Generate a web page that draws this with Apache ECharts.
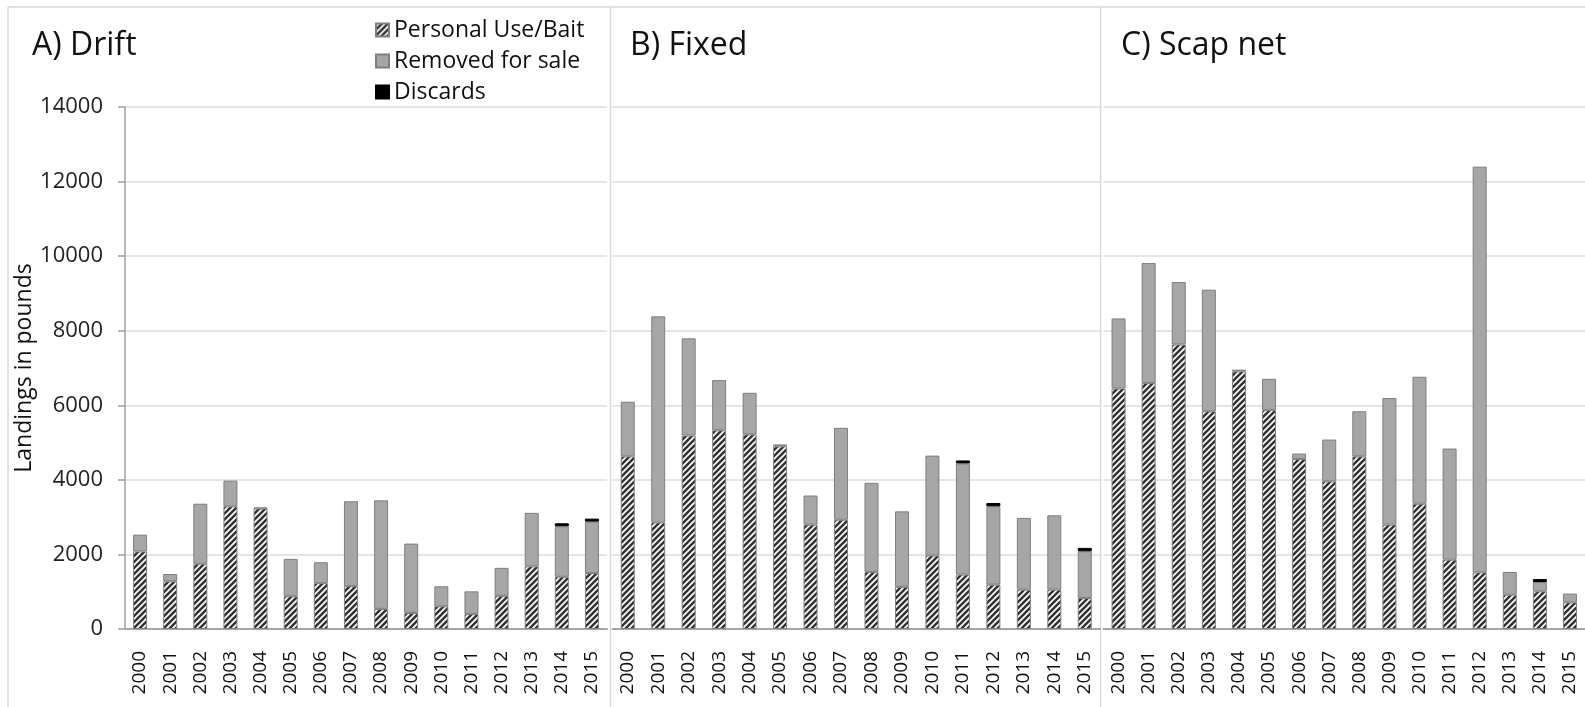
<!DOCTYPE html>
<html>
<head>
<meta charset="utf-8">
<script src="https://cdn.jsdelivr.net/npm/echarts@6/dist/echarts.min.js"></script>
<style>
html, body { margin: 0; padding: 0; background: #fff; }
#main { width: 1585px; height: 707px; }
</style>
</head>
<body>
<div id="main"></div>
<script>
var years = ['2000','2001','2002','2003','2004','2005','2006','2007','2008','2009','2010','2011','2012','2013','2014','2015'];
var yTicks = [0, 14000, 2000]; // min, max, interval

// A) Drift
var driftBait = [2080,1280,1750,3290,3230,880,1230,1150,540,430,610,400,890,1680,1400,1500];
var driftSale = [450,195,1610,690,30,1000,560,2275,2910,1860,535,610,750,1435,1355,1380];
var driftDisc = [0,0,0,0,0,0,0,0,0,0,0,0,0,0,80,80];
// B) Fixed
var fixedBait = [4630,2860,5190,5330,5220,4900,2800,2930,1530,1130,1970,1460,1190,1055,1055,830];
var fixedSale = [1465,5525,2605,1345,1115,50,780,2465,2390,2025,2680,2980,2100,1925,1995,1255];
var fixedDisc = [0,0,0,0,0,0,0,0,0,0,0,80,90,0,0,90];
// C) Scap net
var scapBait = [6450,6600,7630,5840,6910,5870,4560,3960,4630,2800,3360,1860,1520,920,1010,715];
var scapSale = [1880,3215,1675,3260,45,840,145,1120,1210,3395,3405,2980,10880,610,250,235];
var scapDisc = [0,0,0,0,0,0,0,0,0,0,0,0,0,0,80,0];

var panelTitles = ['A) Drift', 'B) Fixed', 'C) Scap net'];
var seriesNames = ['Personal Use/Bait', 'Removed for sale', 'Discards'];

// hatch pattern (wide upward diagonal)
var hatch = document.createElement('canvas');
hatch.width = 6; hatch.height = 6;
var hc = hatch.getContext('2d');
hc.fillStyle = '#fff';
hc.fillRect(0, 0, 6, 6);
hc.strokeStyle = '#333';
hc.lineWidth = 2.5;
hc.beginPath();
for (var k = -6; k <= 12; k += 6) {
	hc.moveTo(k - 1, 7);
	hc.lineTo(k + 7, -1);
}
hc.stroke();

var fnt = '"Open Sans", sans-serif';
var gridPos = [
	{left: 125, top: 107, width: 482, height: 522},
	{left: 612.5, top: 107, width: 487.5, height: 522},
	{left: 1103.5, top: 107, width: 486, height: 522}
];
var panels = [
	[driftBait, driftSale, driftDisc],
	[fixedBait, fixedSale, fixedDisc],
	[scapBait, scapSale, scapDisc]
];
var fills = [{image: hatch, repeat: 'repeat'}, '#a6a6a6', '#000'];
var borders = ['#7f7f7f', '#7f7f7f', '#000'];

var xAxes = [], yAxes = [], series = [];
for (var p = 0; p < 3; p++) {
	xAxes.push({
		type: 'category',
		gridIndex: p,
		data: years,
		axisLine: {lineStyle: {color: '#a6a6a6', width: 2}},
		axisTick: {show: false},
		axisLabel: {rotate: 90, fontSize: 19, fontFamily: fnt, color: '#111', margin: 22, interval: 0}
	});
	yAxes.push({
		type: 'value',
		gridIndex: p,
		min: yTicks[0], max: yTicks[1], interval: yTicks[2],
		name: p == 0 ? 'Landings in pounds' : '',
		nameLocation: 'middle',
		nameGap: 72,
		nameTextStyle: {fontSize: 23, fontFamily: fnt, color: '#111'},
		axisLine: {show: p == 0, lineStyle: {color: '#a0a0a0', width: 1.5}},
		axisTick: {show: p == 0, length: 7, lineStyle: {color: '#a0a0a0', width: 1.5}},
		axisLabel: {show: p == 0, fontSize: 22, fontFamily: fnt, color: '#222', margin: 22,
			formatter: function(v) { return String(v); }},
		splitLine: {lineStyle: {color: '#dcdcdc', width: 1.5}}
	});
	for (var s = 0; s < 3; s++) {
		series.push({
			name: seriesNames[s],
			type: 'bar',
			xAxisIndex: p,
			yAxisIndex: p,
			stack: 'panel' + p,
			barWidth: 14,
			animation: false,
			itemStyle: {color: fills[s], borderColor: borders[s], borderWidth: 1},
			data: panels[p][s].map(function(v) { return v > 0 ? v : null; })
		});
	}
}

var titles = [
	{text: panelTitles[0], left: 27, top: 25},
	{text: panelTitles[1], left: 625, top: 25},
	{text: panelTitles[2], left: 1116, top: 25}
].map(function(t) {
	t.textStyle = {fontSize: 32, fontWeight: 'normal', fontFamily: fnt, color: '#111'};
	return t;
});

var border = {stroke: '#d9d9d9', lineWidth: 1.5};
var option = {
	backgroundColor: '#fff',
	title: titles,
	legend: {
		orient: 'vertical',
		left: 370,
		top: 13,
		icon: 'rect',
		itemWidth: 13,
		itemHeight: 13,
		itemGap: 7,
		selectedMode: false,
		data: seriesNames,
		textStyle: {fontSize: 23, fontFamily: fnt, color: '#111', lineHeight: 24, padding: [0, 0, 0, 0]}
	},
	grid: gridPos,
	xAxis: xAxes,
	yAxis: yAxes,
	series: series,
	graphic: [
		{type: 'line', shape: {x1: 8, y1: 7, x2: 1585, y2: 7}, style: border, silent: true},
		{type: 'line', shape: {x1: 8, y1: 7, x2: 8, y2: 707}, style: border, silent: true},
		{type: 'line', shape: {x1: 610.5, y1: 7, x2: 610.5, y2: 707}, style: border, silent: true},
		{type: 'line', shape: {x1: 1100.5, y1: 7, x2: 1100.5, y2: 707}, style: border, silent: true}
	]
};

var myChart = echarts.init(document.getElementById('main'), null, {renderer: 'canvas'});
myChart.setOption(option);
</script>
</body>
</html>
